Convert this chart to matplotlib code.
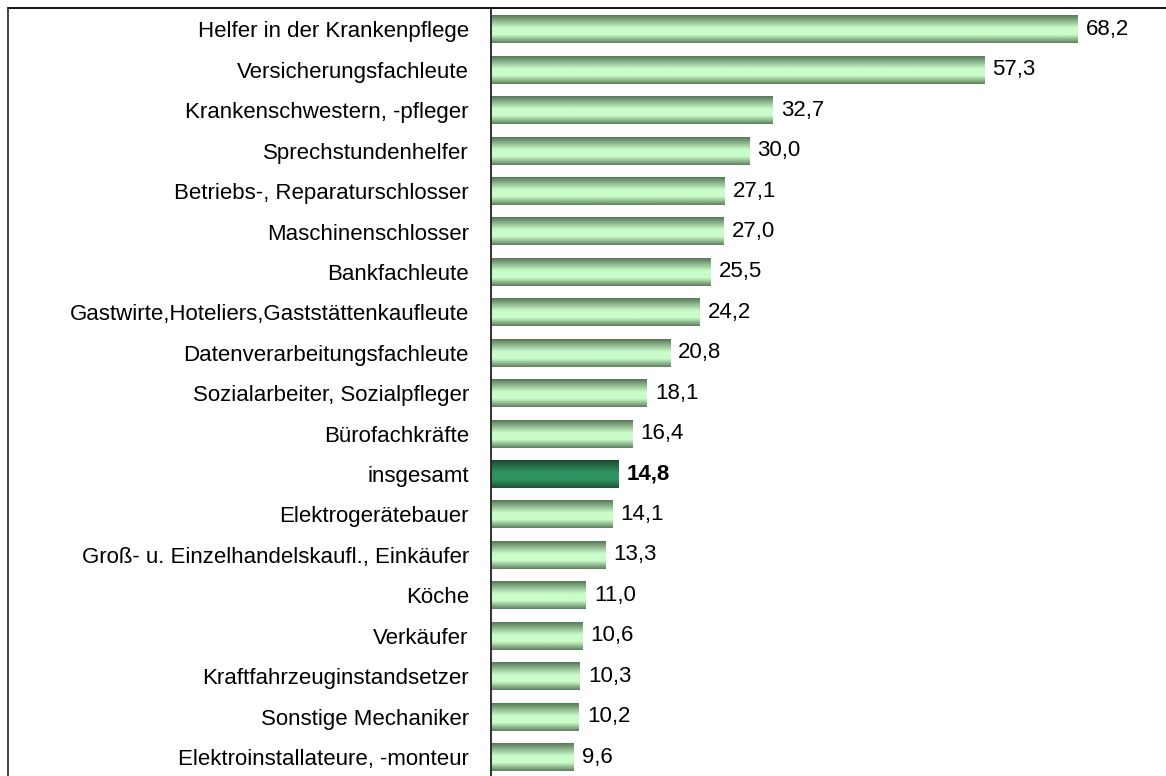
import numpy as np
from matplotlib import pyplot as plt
from matplotlib.colors import to_rgb
from matplotlib.lines import Line2D

# Berufe und Werte (von oben nach unten)
berufe = [
    "Helfer in der Krankenpflege",
    "Versicherungsfachleute",
    "Krankenschwestern, -pfleger",
    "Sprechstundenhelfer",
    "Betriebs-, Reparaturschlosser",
    "Maschinenschlosser",
    "Bankfachleute",
    "Gastwirte,Hoteliers,Gaststättenkaufleute",
    "Datenverarbeitungsfachleute",
    "Sozialarbeiter, Sozialpfleger",
    "Bürofachkräfte",
    "insgesamt",
    "Elektrogerätebauer",
    "Groß- u. Einzelhandelskaufl., Einkäufer",
    "Köche",
    "Verkäufer",
    "Kraftfahrzeuginstandsetzer",
    "Sonstige Mechaniker",
    "Elektroinstallateure, -monteur",
]
werte = [68.2, 57.3, 32.7, 30.0, 27.1, 27.0, 25.5, 24.2, 20.8, 18.1,
         16.4, 14.8, 14.1, 13.3, 11.0, 10.6, 10.3, 10.2, 9.6]
hervorgehoben = "insgesamt"


def gradient(c_edge_top, c_mid, c_edge_bottom, n=64):
    """vertikaler Farbverlauf für einen Balken"""
    stops = [0.0, 0.45, 0.7, 1.0]
    cols = np.array([to_rgb(c_edge_top), to_rgb(c_mid), to_rgb(c_mid), to_rgb(c_edge_bottom)])
    t = np.linspace(0, 1, n)
    img = np.stack([np.interp(t, stops, cols[:, k]) for k in range(3)], axis=1)
    return img.reshape(n, 1, 3)


hell = gradient("#587858", "#c9fcc9", "#5f805f")
dunkel = gradient("#1b4a30", "#2f9462", "#1c5436")

plt.rcParams['font.family'] = ['Liberation Sans', 'DejaVu Sans']
fs = 16

fig = plt.figure(figsize=(11.66, 7.76), dpi=100)
W, H = 1166, 776
ax = fig.add_axes([491 / W, 0, 1 - 491 / W, (H - 8) / H])

y = np.arange(len(werte))
bars = ax.barh(y, werte, height=0.69, color="none", edgecolor="none")
for b, name in zip(bars, berufe):
    x0, y0 = b.get_x(), b.get_y()
    ax.imshow(dunkel if name == hervorgehoben else hell, aspect="auto",
              extent=(x0, x0 + b.get_width(), y0 + b.get_height(), y0),
              interpolation="bilinear", zorder=2)

for yi, v, name in zip(y, werte, berufe):
    ax.text(v + 0.95, yi, f"{v:.1f}".replace(".", ","), va="center", ha="left",
            fontsize=fs, fontweight="bold" if name == hervorgehoben else "normal")

ax.set_xlim(0, (W - 491) / 8.607)
ax.set_ylim(len(werte) - 0.53, -0.53)
ax.set_yticks(y)
ax.set_yticklabels(berufe, fontsize=fs)
ax.tick_params(axis="y", length=0, pad=16)
ax.set_xticks([])
for s in ["top", "right", "bottom"]:
    ax.spines[s].set_visible(False)
ax.spines["left"].set_linewidth(1.3)
ax.spines["left"].set_color("#222222")

# äußerer Rahmen (oben und links)
fig.add_artist(Line2D([8 / W, 1], [(H - 8) / H, (H - 8) / H], color="black", lw=1.3))
fig.add_artist(Line2D([8 / W, 8 / W], [0, (H - 8) / H], color="#333333", lw=1.3))

plt.savefig("out.png", dpi=100)
